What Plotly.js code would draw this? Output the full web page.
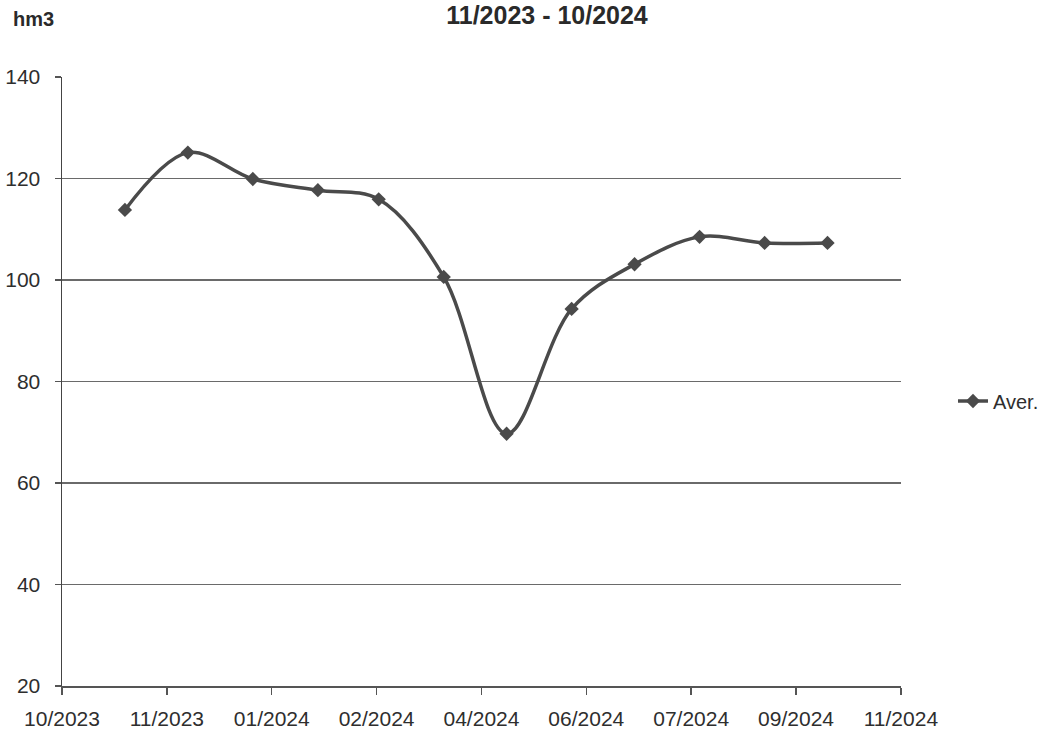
<!DOCTYPE html>
<html>
<head>
<meta charset="utf-8">
<script src="https://cdn.plot.ly/plotly-3.0.1.min.js"></script>
<style>html,body{margin:0;padding:0;background:#fff;}#chart{width:1046px;height:737px;}</style>
</head>
<body>
<div id="chart"></div>
<script>
const months = ['2023-11-01','2023-12-01','2024-01-01','2024-02-01','2024-03-01','2024-04-01','2024-05-01','2024-06-01','2024-07-01','2024-08-01','2024-09-01','2024-10-01'];
const averValues = [113.8, 125.1, 119.9, 117.7, 115.9, 100.6, 69.7, 94.3, 103.1, 108.5, 107.3, 107.3];
const seriesName = 'Aver.';
const chartTitle = '11/2023 - 10/2024';
const yUnit = 'hm3';

const col = '#4a4a4a';
const fontFam = '"Liberation Sans", Arial, sans-serif';

const trace = {
  x: months, y: averValues, name: seriesName, type: 'scatter', mode: 'lines+markers',
  line: {color: col, width: 3.5, shape: 'spline', smoothing: 1},
  marker: {symbol: 'diamond', size: 11, color: col}
};

const layout = {
  width: 1046, height: 737,
  margin: {l: 62, r: 145, t: 77, b: 51},
  paper_bgcolor: '#fff', plot_bgcolor: '#fff',
  font: {family: fontFam, size: 20, color: '#2e2e2e'},
  title: {text: '<b>' + chartTitle + '</b>', x: 547/1046, xref: 'container', xanchor: 'center', y: 1 - 15/737, yref: 'container', yanchor: 'middle', font: {size: 25, color: '#2a2a2a'}},
  showlegend: true,
  legend: {x: 953/1046, xref: 'container', xanchor: 'left', y: 1 - 401/737, yref: 'container', yanchor: 'middle', font: {size: 20, color: '#2e2e2e'}, bgcolor: 'rgba(0,0,0,0)'},
  xaxis: {
    type: 'date', range: ['2023-10-02', '2024-11-05 01:00'],
    tick0: '2023-10-02', dtick: 50*86400000, tickformat: '%m/%Y',
    showgrid: false, zeroline: false, showline: true, linecolor: '#555', linewidth: 1.5,
    ticks: 'outside', ticklen: 7, tickcolor: '#555', tickwidth: 1.5,
    tickfont: {size: 21}, ticklabelstandoff: 6
  },
  yaxis: {
    range: [20, 140], dtick: 20, tick0: 20,
    showgrid: true, gridcolor: '#6a6a6a', gridwidth: 1.5, zeroline: false,
    showline: true, linecolor: '#444', linewidth: 1.5,
    ticks: 'outside', ticklen: 6, tickcolor: '#555', tickwidth: 1.5,
    tickfont: {size: 21}, ticklabelstandoff: 10
  },
  annotations: [{text: '<b>' + yUnit + '</b>', xref: 'paper', yref: 'paper', x: -29/839, y: (686 - 19)/609, xanchor: 'center', yanchor: 'middle', showarrow: false, font: {size: 20, color: '#2a2a2a'}}]
};

Plotly.newPlot('chart', [trace], layout, {displayModeBar: false, staticPlot: true});
</script>
</body>
</html>
